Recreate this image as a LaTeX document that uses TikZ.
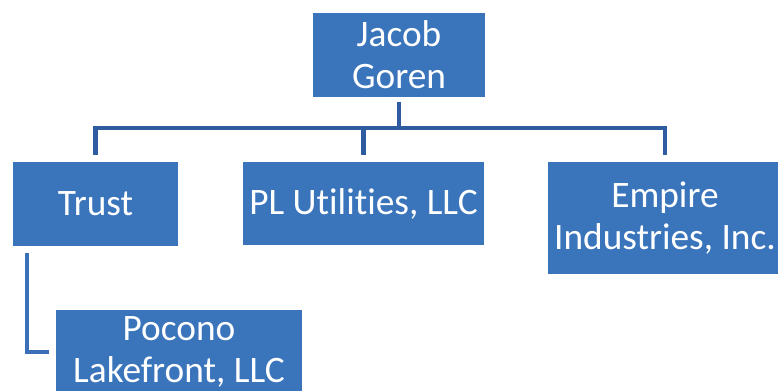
\documentclass[tikz,border=0pt]{standalone}
\usepackage{fontspec}
\setmainfont[Ligatures=NoCommon]{Carlito}
\usetikzlibrary{calc,positioning}
\definecolor{boxblue}{RGB}{58,117,188}
\definecolor{linkblue}{RGB}{47,92,160}
\definecolor{sublink}{RGB}{58,112,184}

\begin{document}
\begin{tikzpicture}[x=0.75pt,y=-0.75pt,
    entity/.style={fill=boxblue,text=white,align=center,inner sep=0pt,
      font=\fontsize{28}{31.5}\selectfont},
    link/.style={draw=linkblue,line width=3.5pt},
    sublinkline/.style={draw=sublink,line width=3pt}]
  \useasboundingbox (0,0) rectangle (778,391);

  \node[entity,minimum width=129pt,minimum height=63pt] (jacob) at (399,55) {Jacob\\Goren};
  \node[entity,minimum width=123.75pt,minimum height=63pt] (trust) at (95.5,204) {Trust};
  \node[entity,minimum width=180.75pt,minimum height=62.25pt] (pl) at (363.5,203.5) {PL Utilities, LLC};
  \node[entity,minimum width=175.5pt,minimum height=84pt] (empire) at (665,218) {Empire\\Industries, Inc.};
  \node[entity,minimum width=184.5pt,minimum height=63pt] (pocono) at (179,352) {Pocono\\Lakefront, LLC};

  \coordinate (bus) at (399,128);
  \draw[link] ($(jacob.south)+(0,5)$) -- (jacob.south |- bus);
  \draw[link] ($(trust.north)+(0,-7)$) -- (trust.north |- bus)
    -- (empire.north |- bus) -- ($(empire.north)+(0,-7)$);
  \draw[link] (pl.north |- bus) -- ($(pl.north)+(0,-7)$);

  % trust to its holding
  \draw[sublinkline] ($(trust.south west)+(14,7)$) |- ($(pocono.west)+(-7,0)$);
\end{tikzpicture}
\end{document}
